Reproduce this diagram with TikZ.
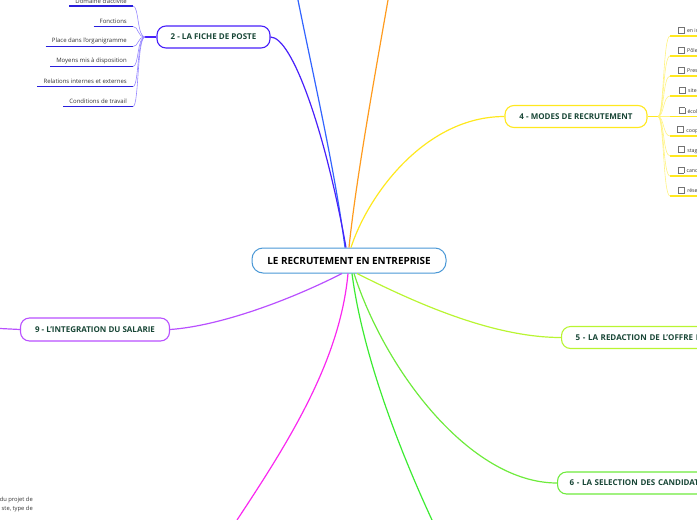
\documentclass[tikz,border=0pt]{standalone}
\usepackage{fontspec}
\setmainfont{Open Sans}
\usetikzlibrary{positioning}
\definecolor{rootline}{RGB}{74,152,214}
\definecolor{topictext}{RGB}{24,70,54}
\definecolor{ficheblue}{RGB}{72,32,250}
\definecolor{fichelight}{RGB}{150,135,255}
\definecolor{ficheleaf}{RGB}{40,30,220}
\definecolor{topblue}{RGB}{50,100,255}
\definecolor{toporange}{RGB}{255,155,30}
\definecolor{modesyellow}{RGB}{255,232,30}
\definecolor{modeslight}{RGB}{255,243,130}
\definecolor{offrelime}{RGB}{185,245,50}
\definecolor{selectgreen}{RGB}{110,235,60}
\definecolor{bottomgreen}{RGB}{60,235,50}
\definecolor{bottommagenta}{RGB}{250,40,240}
\definecolor{integpurple}{RGB}{185,80,255}
\newcommand{\tickbox}{{\setlength{\fboxsep}{0pt}\setlength{\fboxrule}{0.5pt}\fcolorbox{black!55}{white}{\rule{0pt}{5.5pt}\hspace{5.5pt}}}}
\tikzset{
  rootbox/.style={draw=rootline,line width=1pt,rounded corners=11pt,fill=white,minimum width=194pt,minimum height=25pt,inner sep=0pt,font=\bfseries\fontsize{9.9}{11}\selectfont},
  topicbox/.style={line width=1.1pt,rounded corners=9pt,fill=white,text=topictext,minimum height=22pt,inner sep=0pt,font=\bfseries\fontsize{8}{9}\selectfont},
  branch/.style={line width=1.2pt},
  twig/.style={line width=0.6pt},
  leafbox/.style={anchor=south east,inner xsep=6pt,inner ysep=2.5pt,text=black!80,font=\fontsize{6}{7}\selectfont,
    append after command={(\tikzlastnode.south west) edge[line width=1.3pt,ficheleaf] (\tikzlastnode.south east)}},
  tickitem/.style={anchor=south west,inner xsep=0pt,inner ysep=2.5pt,minimum width=30pt,text=black!80,font=\fontsize{5.2}{7}\selectfont,
    append after command={(\tikzlastnode.south west) edge[line width=1.3pt,modesyellow] (\tikzlastnode.south east)}},
  looseleaf/.style={text=black!80,font=\fontsize{5.8}{9}\selectfont,align=right,inner sep=0pt}
}

\begin{document}
\begin{tikzpicture}[x=1pt,y=-1pt]
  \useasboundingbox (0,0) rectangle (697,520);
  \clip (0,0) rectangle (697,520);

  % centre
  \node[rootbox] (root) at (349,260.5) {LE RECRUTEMENT EN ENTREPRISE};

  % branches leaving the page
  \coordinate (topB) at (298,0);
  \coordinate (topO) at (388,0);
  \coordinate (botM) at (237,520);
  \coordinate (botG) at (432,520);
  \draw[branch,topblue] ([xshift=-4pt]root.north) .. controls (335,170) and (312,70) .. (topB);
  \draw[branch,toporange] ([xshift=0pt]root.north) .. controls (356,180) and (374,80) .. (topO);
  \draw[branch,bottommagenta] ([xshift=-1pt]root.south) .. controls (340,360) and (290,440) .. (botM);
  \draw[branch,bottomgreen] ([xshift=3pt]root.south) .. controls (362,350) and (395,440) .. (botG);

  % 2 - fiche de poste
  \node[topicbox,draw=ficheblue,minimum width=113pt] (fiche) at (213.5,37) {2 - LA FICHE DE POSTE};
  \draw[branch,ficheblue] ([xshift=-3pt]root.north) .. controls (325,130) and (292,37) .. (fiche.east);
  \coordinate (hubF) at (145,37);
  \draw[branch,ficheblue] (fiche.west) -- (hubF);
  \node[leafbox] (domaine) at (133,6) {Domaine d'activité};
  \node[leafbox] (fonctions) at (133,26.5) {Fonctions};
  \node[leafbox] (place) at (133,46.5) {Place dans l'organigramme};
  \node[leafbox] (moyens) at (133,66.5) {Moyens mis à disposition};
  \node[leafbox] (relations) at (133,86.5) {Relations internes et externes};
  \node[leafbox] (conditions) at (133,106.5) {Conditions de travail};
  \draw[twig,fichelight] (hubF) .. controls (137,37) and (139,6) .. (domaine.south east);
  \draw[twig,fichelight] (hubF) .. controls (137,37) and (139,26.5) .. (fonctions.south east);
  \draw[twig,fichelight] (hubF) .. controls (137,37) and (139,46.5) .. (place.south east);
  \draw[twig,fichelight] (hubF) .. controls (137,37) and (139,66.5) .. (moyens.south east);
  \draw[twig,fichelight] (hubF) .. controls (137,37) and (139,86.5) .. (relations.south east);
  \draw[twig,fichelight] (hubF) .. controls (137,37) and (139,106.5) .. (conditions.south east);

  % 4 - modes de recrutement
  \node[topicbox,draw=modesyellow,minimum width=142pt] (modes) at (576,116.5) {4 - MODES DE RECRUTEMENT};
  \draw[branch,modesyellow] ([xshift=2pt]root.north) .. controls (368,195) and (425,116.5) .. (modes.west);
  \coordinate (hubM) at (658,116.5);
  \draw[branch,modesyellow] (modes.east) -- (hubM);
  \node[tickitem] (interne) at (670,36) {\hspace{5.5pt}\tickbox\hspace{2.5pt}en ir};
  \node[tickitem] (pole) at (670,56) {\hspace{5.5pt}\tickbox\hspace{2.5pt}Pôle};
  \node[tickitem] (presse) at (670,76) {\hspace{5.5pt}\tickbox\hspace{2.5pt}Pres};
  \node[tickitem] (site) at (670,96) {\hspace{5.5pt}\tickbox\hspace{2.5pt}site};
  \node[tickitem] (ecole) at (670,116.5) {\hspace{5.5pt}\tickbox\hspace{2.5pt}écol};
  \node[tickitem] (coop) at (670,136) {\hspace{5.5pt}\tickbox\hspace{2.5pt}coop};
  \node[tickitem] (stage) at (670,156) {\hspace{5.5pt}\tickbox\hspace{2.5pt}stag};
  \node[tickitem] (cand) at (670,176) {\hspace{5.5pt}\tickbox\hspace{2.5pt}cand};
  \node[tickitem] (reseau) at (670,196) {\hspace{5.5pt}\tickbox\hspace{2.5pt}rése};
  \draw[twig,modeslight] (hubM) .. controls (664,116.5) and (663,36) .. (interne.south west);
  \draw[twig,modeslight] (hubM) .. controls (664,116.5) and (663,56) .. (pole.south west);
  \draw[twig,modeslight] (hubM) .. controls (664,116.5) and (663,76) .. (presse.south west);
  \draw[twig,modeslight] (hubM) .. controls (664,116.5) and (663,96) .. (site.south west);
  \draw[twig,modeslight] (hubM) -- (ecole.south west);
  \draw[twig,modeslight] (hubM) .. controls (664,116.5) and (663,136) .. (coop.south west);
  \draw[twig,modeslight] (hubM) .. controls (664,116.5) and (663,156) .. (stage.south west);
  \draw[twig,modeslight] (hubM) .. controls (664,116.5) and (663,176) .. (cand.south west);
  \draw[twig,modeslight] (hubM) .. controls (664,116.5) and (663,196) .. (reseau.south west);

  % 5 - offre, 6 - selection
  \node[topicbox,draw=offrelime,anchor=west,inner xsep=14pt,text width=200pt,align=left] (offre) at (561,337.5) {5 - LA REDACTION DE L'OFFRE D};
  \draw[branch,offrelime] ([xshift=8pt]root.south) .. controls (410,300) and (490,337.5) .. (offre.west);
  \node[topicbox,draw=selectgreen,anchor=west,inner xsep=12pt,text width=200pt,align=left] (select) at (557,483) {6 - LA SELECTION DES CANDIDATS};
  \draw[branch,selectgreen] ([xshift=5pt]root.south) .. controls (385,370) and (470,483) .. (select.west);

  % 9 - integration
  \node[topicbox,draw=integpurple,minimum width=149pt,minimum height=23pt] (integ) at (95,329.5) {9 - L'INTEGRATION DU SALARIE};
  \draw[branch,integpurple] ([xshift=-7pt]root.south) .. controls (290,300) and (220,326) .. (integ.east);
  \coordinate (integleft) at (0,328.5);
  \draw[branch,integpurple] (integ.west) -- (integleft);

  % cut-off leaf, bottom left
  \node[looseleaf,anchor=east] (projet) at (33,504) {du projet de\\ste, type de};
\end{tikzpicture}
\end{document}
